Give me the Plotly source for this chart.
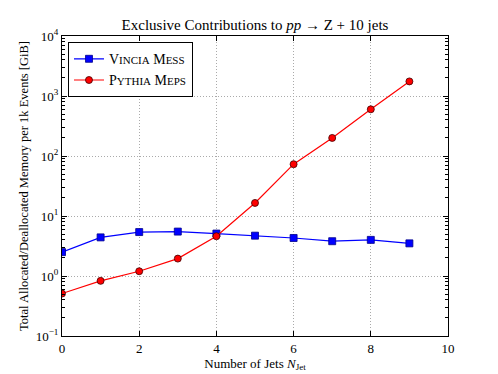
import plotly.graph_objects as go

# Exclusive contributions, memory per 1k events [GiB]
n_jets = [0, 1, 2, 3, 4, 5, 6, 7, 8, 9]
vincia_mess = [2.5, 4.4, 5.4, 5.5, 5.1, 4.7, 4.3, 3.8, 4.0, 3.5]
pythia_meps = [0.51, 0.83, 1.2, 1.95, 4.6, 16.5, 73, 200, 600, 1750]

y_tickvals = [0.1, 1, 10, 100, 1000, 10000]
y_ticktext = ["10<sup>−1</sup>", "10<sup>0</sup>", "10<sup>1</sup>",
              "10<sup>2</sup>", "10<sup>3</sup>", "10<sup>4</sup>"]

# minor ticks at 2..9 of each decade
y_minor = [m * d for d in y_tickvals[:-1] for m in range(2, 10)]

SC = "font-size:11px"

fig = go.Figure()

fig.add_trace(go.Scatter(
    x=n_jets, y=vincia_mess, mode="lines+markers",
    name=f"V<span style='{SC}'>INCIA</span> M<span style='{SC}'>ESS</span>",
    line=dict(color="#0000ff", width=1.2),
    marker=dict(symbol="square", size=7, color="#0000ff",
                line=dict(color="#00008b", width=0.8)),
))
fig.add_trace(go.Scatter(
    x=n_jets, y=pythia_meps, mode="lines+markers",
    name=f"P<span style='{SC}'>YTHIA</span> M<span style='{SC}'>EPS</span>",
    line=dict(color="#ff0000", width=1.2),
    marker=dict(symbol="circle", size=7, color="#ff0000",
                line=dict(color="#400000", width=0.8)),
))

# page body has an 8px margin, so the figure is sized to fit the window
fig.update_layout(
    width=490, height=366,
    margin=dict(l=54, r=50, t=28, b=38, autoexpand=False),
    paper_bgcolor="white", plot_bgcolor="white",
    font=dict(family="Liberation Serif", size=13, color="black"),
    title=dict(text="Exclusive Contributions to <i>pp</i> → Z + 10 jets",
               x=0.5, xanchor="center", xref="paper",
               y=0.953, yanchor="middle", yref="container",
               font=dict(size=15)),
    showlegend=True,
    legend=dict(x=0.015, y=0.98, xanchor="left", yanchor="top",
                bgcolor="white", bordercolor="black", borderwidth=1.2,
                font=dict(size=14), itemwidth=30),
)

fig.update_xaxes(
    range=[0, 10], dtick=2, tick0=0, automargin=False,
    showline=True, linecolor="black", linewidth=1, mirror="allticks",
    ticks="inside", ticklen=5, tickcolor="black",
    showgrid=True, gridcolor="#aaaaaa", griddash="1px,2px", gridwidth=1,
    zeroline=False,
    title=dict(text="Number of Jets <i>N</i><sub>Jet</sub>", standoff=2,
               font=dict(size=13)),
    tickfont=dict(size=13),
)
fig.update_yaxes(
    type="log", range=[-1, 4], automargin=False,
    tickvals=y_tickvals, ticktext=y_ticktext,
    showline=True, linecolor="black", linewidth=1, mirror="allticks",
    ticks="inside", ticklen=5, tickcolor="black",
    minor=dict(tickvals=y_minor, ticks="inside", ticklen=3,
               tickcolor="black", showgrid=False),
    showgrid=True, gridcolor="#aaaaaa", griddash="1px,2px", gridwidth=1,
    zeroline=False,
    title=dict(text="Total Allocated/Deallocated Memory per 1k Events [GiB]",
               standoff=4, font=dict(size=12.5)),
    tickfont=dict(size=13),
)

fig.write_html("out.html")
